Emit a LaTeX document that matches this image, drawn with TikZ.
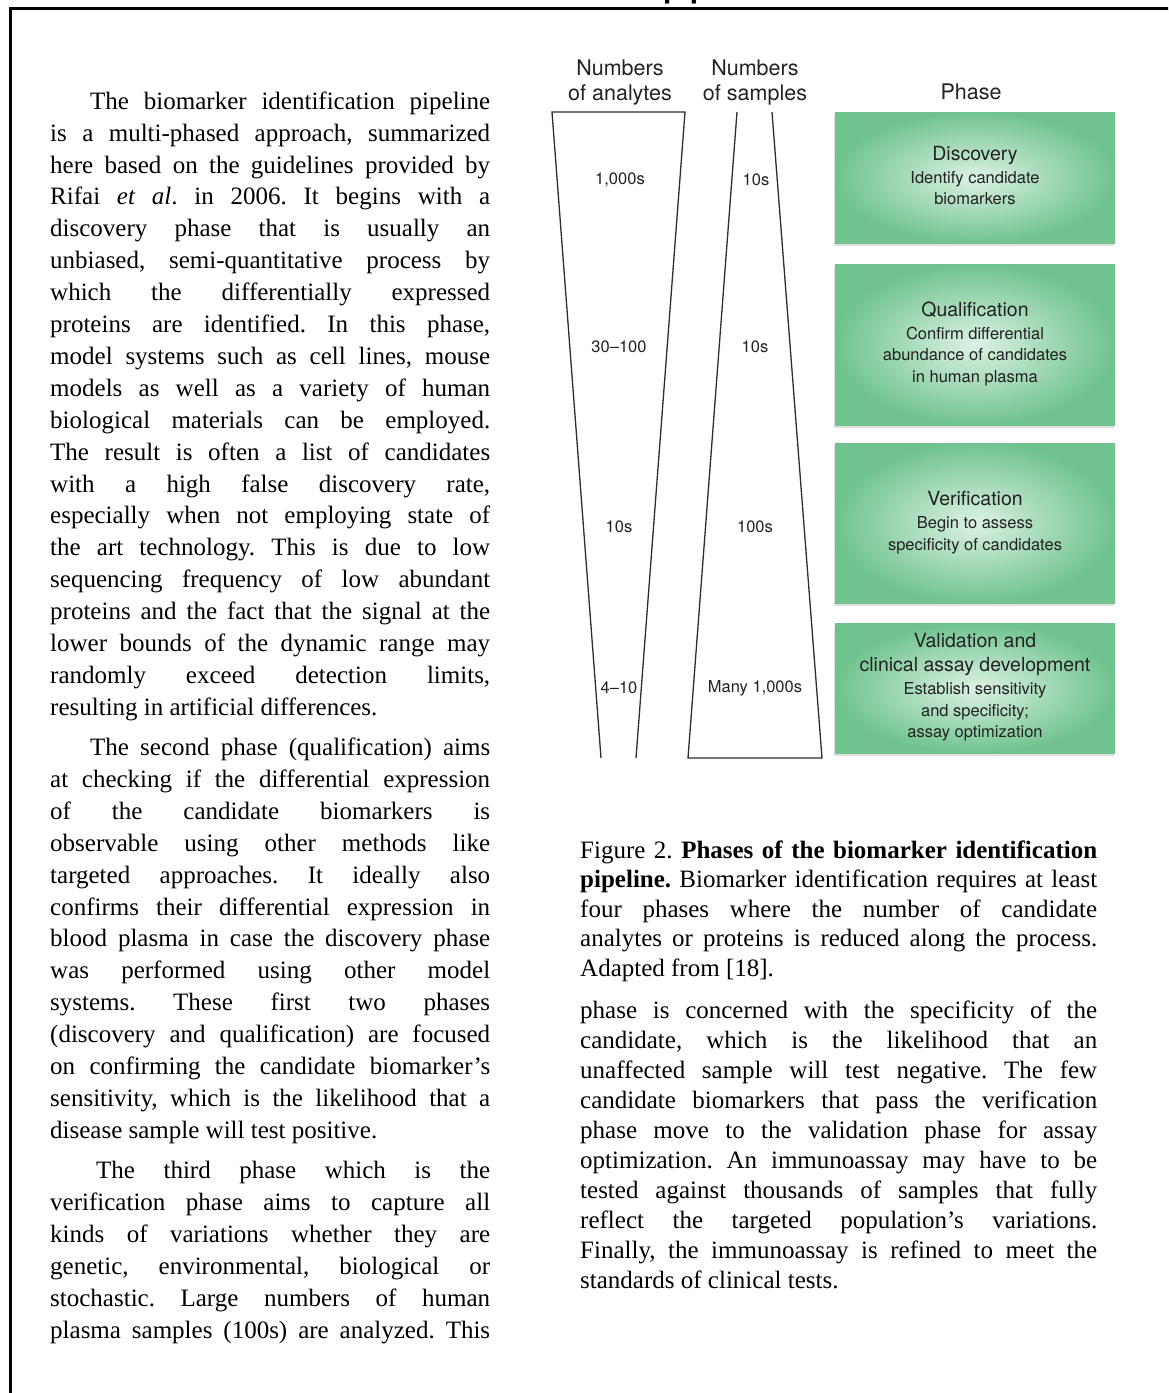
\documentclass[tikz,border=0pt]{standalone}
\usepackage{fontspec}
\setmainfont{Liberation Serif}
\newfontfamily\figfont{TeX Gyre Heros}
\usetikzlibrary{shadows}
\frenchspacing

\definecolor{phasegreen}{RGB}{112,195,142}
\definecolor{phaselight}{RGB}{220,242,228}
\definecolor{figink}{RGB}{34,34,34}
\definecolor{funnelink}{RGB}{45,45,45}

% column width used by the line macros
\newlength{\colw}
\newcommand{\jline}[1]{\makebox[\colw][s]{\strut#1}}
\newcommand{\iline}[1]{\makebox[\colw][s]{\strut\kern40pt#1}}
\newcommand{\lline}[1]{\strut#1}
\newcommand{\phtitle}[1]{{\fontsize{19.5}{23}\selectfont\strut#1}}

\begin{document}
\begin{tikzpicture}[
  x=1pt, y=-1pt,
  para/.style={anchor=north west, inner sep=0pt, align=left,
    font=\fontsize{25}{31.9}\selectfont},
  leftcol/.style={execute at begin node={\setlength{\colw}{440pt}}},
  rightcol/.style={execute at begin node={\setlength{\colw}{517pt}}},
  hdr/.style={anchor=north, inner sep=0pt, align=center, text=figink,
    font=\figfont\fontsize{21.5}{25}\selectfont},
  num/.style={inner sep=0pt, text=figink, font=\figfont\fontsize{16.5}{20}\selectfont},
  funnel/.style={draw=funnelink, line width=1.3pt},
  phasebox/.style={rectangle, minimum width=280pt, inner sep=0pt, align=center,
    text=figink, inner color=phaselight, outer color=phasegreen,
    font=\figfont\fontsize{16.5}{21.5}\selectfont,
    drop shadow={shadow xshift=-1.5pt, shadow yshift=-2.5pt, opacity=0.25}}
]
\useasboundingbox (0,0) rectangle (1168,1393);
\clip (0,0) rectangle (1168,1393);

% frame and cut title
\draw[line width=3.6pt] (10.3,1420) -- (10.3,8.3) -- (1200,8.3);
\node[anchor=base east, inner sep=0pt, font=\figfont\bfseries\fontsize{30}{36}\selectfont]
  (title) at (777,-2.5) {Biomarker identification pipeline};

% left column
\node[para, leftcol] (textleft) at (50,86.7) {%
\iline{The biomarker identification pipeline}\\
\jline{is a multi-phased approach, summarized}\\
\jline{here based on the guidelines provided by}\\
\jline{Rifai \textit{et al}. in 2006. It begins with a}\\
\jline{discovery phase that is usually an}\\
\jline{unbiased, semi-quantitative process by}\\
\jline{which the differentially expressed}\\
\jline{proteins are identified. In this phase,}\\
\jline{model systems such as cell lines, mouse}\\
\jline{models as well as a variety of human}\\
\jline{biological materials can be employed.}\\
\jline{The result is often a list of candidates}\\
\jline{with a high false discovery rate,}\\
\jline{especially when not employing state of}\\
\jline{the art technology. This is due to low}\\
\jline{sequencing frequency of low abundant}\\
\jline{proteins and the fact that the signal at the}\\
\jline{lower bounds of the dynamic range may}\\
\jline{randomly exceed detection limits,}\\
\lline{resulting in artificial differences.}\\[8.3pt]
\iline{The second phase (qualification) aims}\\
\jline{at checking if the differential expression}\\
\jline{of the candidate biomarkers is}\\
\jline{observable using other methods like}\\
\jline{targeted approaches. It ideally also}\\
\jline{confirms their differential expression in}\\
\jline{blood plasma in case the discovery phase}\\
\jline{was performed using other model}\\
\jline{systems. These first two phases}\\
\jline{(discovery and qualification) are focused}\\
\jline{on confirming the candidate biomarker’s}\\
\jline{sensitivity, which is the likelihood that a}\\
\lline{disease sample will test positive.}\\[8.3pt]
\iline{\kern6pt The third phase which is the}\\
\jline{verification phase aims to capture all}\\
\jline{kinds of variations whether they are}\\
\jline{genetic, environmental, biological or}\\
\jline{stochastic. Large numbers of human}\\
\jline{plasma samples (100s) are analyzed. This}};

% figure headers
\node[hdr] (hanalytes) at (620,58.2) {\strut Numbers\\\strut of analytes};
\node[hdr] (hsamples) at (755,58.2) {\strut Numbers\\\strut of samples};
\node[hdr, anchor=base] (hphase) at (971,99.5) {Phase};

% funnels
\draw[funnel] (601,758) -- (552,112) -- (685,112) -- (636,758);
\draw[funnel] (737,112) -- (688,758) -- (822,758) -- (772,112);

% analyte and sample counts
\node[num] (a1) at (620,180) {1,000s};
\node[num] (s1) at (756,180) {10s};
\node[num] (a2) at (619,347) {30–100};
\node[num] (s2) at (755,347) {10s};
\node[num] (a3) at (619,527) {10s};
\node[num] (s3) at (755,527) {100s};
\node[num] (a4) at (619,688) {4–10};
\node[num] (s4) at (755,688) {Many 1,000s};

% phase boxes
\node[phasebox, minimum height=131pt] (discovery) at (975,177.5)
  {\phtitle{Discovery}\\\strut Identify candidate\\\strut biomarkers};
\node[phasebox, minimum height=161pt] (qualification) at (975,344.5)
  {\phtitle{Qualification}\\\strut Confirm differential\\\strut abundance of candidates\\\strut in human plasma};
\node[phasebox, minimum height=160pt] (verification) at (975,523)
  {\phtitle{Verification}\\\strut Begin to assess\\\strut specificity of candidates};
\node[phasebox, minimum height=130pt] (validation) at (975,688)
  {\phtitle{Validation and}\\\phtitle{clinical assay development}\\\strut Establish sensitivity\\\strut and specificity;\\\strut assay optimization};

% caption
\node[para, rightcol, font=\fontsize{25}{29.5}\selectfont] (caption) at (580,837.4) {%
\jline{Figure 2. \textbf{Phases of the biomarker identification}}\\
\jline{\textbf{pipeline.} Biomarker identification requires at least}\\
\jline{four phases where the number of candidate}\\
\jline{analytes or proteins is reduced along the process.}\\
\lline{Adapted from [18].}};

% right column
\node[para, rightcol, font=\fontsize{25}{30}\selectfont] (textright) at (580,997) {%
\jline{phase is concerned with the specificity of the}\\
\jline{candidate, which is the likelihood that an}\\
\jline{unaffected sample will test negative. The few}\\
\jline{candidate biomarkers that pass the verification}\\
\jline{phase move to the validation phase for assay}\\
\jline{optimization. An immunoassay may have to be}\\
\jline{tested against thousands of samples that fully}\\
\jline{reflect the targeted population’s variations.}\\
\jline{Finally, the immunoassay is refined to meet the}\\
\lline{standards of clinical tests.}};
\end{tikzpicture}
\end{document}
